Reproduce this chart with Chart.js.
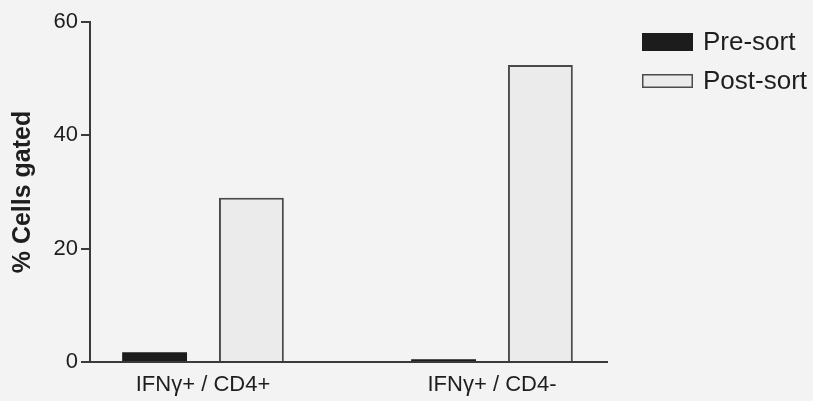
<!DOCTYPE html>
<html>
<head>
<meta charset="utf-8">
<script src="https://cdn.jsdelivr.net/npm/chart.js@4.4.1/dist/chart.umd.min.js"></script>
<style>
  html, body { margin: 0; padding: 0; background: #f3f3f3; }
  #wrap { width: 813px; height: 401px; position: relative; }
</style>
</head>
<body>
<div id="wrap"><canvas id="c" width="813" height="401"></canvas></div>
<script>
// ---- data ----
const categories = ['IFNγ+ / CD4+', 'IFNγ+ / CD4-'];
const seriesNames = ['Pre-sort', 'Post-sort'];
const preSort = [1.7, 0.5];
const postSort = [29.0, 52.4];
const yTicks = [0, 20, 40, 60];
const yTitle = '% Cells gated';

const FONT = '"Liberation Sans", Arial, Helvetica, sans-serif';
const AXIS = '#3a3a3a';

function toPoints(arr) { return arr.map((v, i) => ({ x: i, y: v })); }

const sideLegend = {
  id: 'sideLegend',
  afterDraw(chart) {
    const ctx = chart.ctx;
    const boxes = [{ y: 33, h: 18 }, { y: 74, h: 14 }];
    ctx.save();
    ctx.font = '26px ' + FONT;
    ctx.textBaseline = 'middle';
    ctx.textAlign = 'left';
    chart.data.datasets.forEach((ds, i) => {
      const b = boxes[i];
      ctx.fillStyle = ds.backgroundColor;
      ctx.fillRect(642, b.y, 51, b.h);
      if (ds.borderWidth) {
        ctx.strokeStyle = ds.borderColor;
        ctx.lineWidth = 1.5;
        ctx.strokeRect(642.75, b.y + 0.75, 49.5, b.h - 1.5);
      }
      ctx.fillStyle = '#1e1e1e';
      ctx.fillText(ds.label, 703, b.y + b.h / 2 + 1);
    });
    ctx.restore();
  }
};

new Chart(document.getElementById('c'), {
  type: 'bar',
  data: {
    datasets: [
      {
        label: seriesNames[0],
        data: toPoints(preSort),
        backgroundColor: '#1c1c1c',
        borderColor: '#1c1c1c',
        borderWidth: 0
      },
      {
        label: seriesNames[1],
        data: toPoints(postSort),
        backgroundColor: '#ebebeb',
        borderColor: '#4a4a4a',
        borderWidth: 2
      }
    ]
  },
  options: {
    responsive: false,
    animation: false,
    devicePixelRatio: 1,
    layout: { padding: { left: 0, top: 22, right: 206, bottom: 0 } },
    categoryPercentage: 0.67,
    barPercentage: 0.67,
    plugins: {
      legend: { display: false },
      tooltip: { enabled: false }
    },
    scales: {
      x: {
        type: 'linear',
        offset: false,
        min: -0.391,
        max: 1.398,
        afterBuildTicks(scale) { scale.ticks = categories.map((_, i) => ({ value: i })); },
        afterFit(scale) { scale.height = 39; },
        grid: { display: false, drawTicks: false },
        border: { display: true, color: AXIS, width: 2 },
        ticks: {
          autoSkip: false,
          maxRotation: 0,
          padding: 10,
          color: '#1e1e1e',
          font: { family: FONT, size: 22 },
          callback: (v) => categories[v] !== undefined ? categories[v] : ''
        }
      },
      y: {
        min: 0,
        max: 60,
        afterBuildTicks(scale) { scale.ticks = yTicks.map(v => ({ value: v })); },
        afterFit(scale) { scale.width = 90; },
        grid: {
          drawOnChartArea: false,
          drawTicks: true,
          tickLength: 9,
          color: AXIS,
          lineWidth: 2
        },
        border: { display: true, color: AXIS, width: 2 },
        ticks: {
          padding: 3,
          color: '#1e1e1e',
          font: { family: FONT, size: 22 }
        },
        title: {
          display: true,
          text: yTitle,
          color: '#1e1e1e',
          font: { family: FONT, size: 25, weight: 'bold' },
          padding: { top: 8, bottom: 0 }
        }
      }
    }
  },
  plugins: [sideLegend]
});
</script>
</body>
</html>
